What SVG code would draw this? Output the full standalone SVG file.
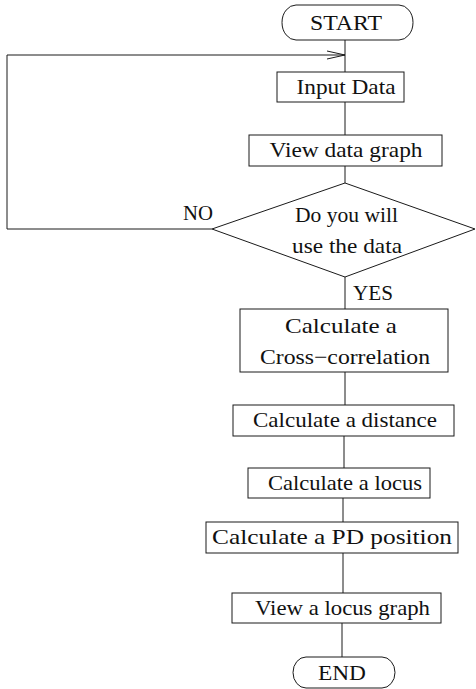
<svg xmlns="http://www.w3.org/2000/svg" width="476" height="689" viewBox="0 0 476 689">
<defs>
<style>
.s{fill:#fff;stroke:#1a1a1a;stroke-width:1}
.c{fill:none;stroke:#1a1a1a;stroke-width:1}
.t{font-family:"Liberation Serif","Times New Roman",serif;font-size:21px;fill:#111;text-anchor:middle}
.l{font-family:"Liberation Serif","Times New Roman",serif;font-size:21px;fill:#111}
</style>
<marker id="ah" markerWidth="20" markerHeight="10" refX="18" refY="5" orient="auto" markerUnits="userSpaceOnUse">
<path d="M0,1 L18,5 L0,9" fill="none" stroke="#1a1a1a" stroke-width="1"/>
</marker>
</defs>
<rect width="476" height="689" fill="#fff"/>
<g id="connectors">
<line class="c" x1="345" y1="40" x2="345" y2="72"/>
<line class="c" x1="345" y1="102" x2="345" y2="135"/>
<line class="c" x1="345" y1="166" x2="345" y2="183"/>
<line class="c" x1="345" y1="277" x2="345" y2="309"/>
<line class="c" x1="345" y1="372" x2="345" y2="405"/>
<line class="c" x1="344" y1="436" x2="344" y2="468"/>
<line class="c" x1="343" y1="498" x2="343" y2="522"/>
<line class="c" x1="343" y1="553" x2="343" y2="593"/>
<line class="c" x1="342" y1="623" x2="342" y2="657"/>
<polyline class="c" points="212,229 7,229 7,55 345,55" marker-end="url(#ah)"/>
<text class="l" x="183" y="220" textLength="30" lengthAdjust="spacingAndGlyphs">NO</text>
<text class="l" x="353" y="300" textLength="40" lengthAdjust="spacingAndGlyphs">YES</text>
</g>
<g id="start">
<path class="s" d="M296,5 H399 A14,17.5 0 0 1 399,40 H296 A14,17.5 0 0 1 296,5 Z"/>
<text class="t" x="346" y="30" textLength="72" lengthAdjust="spacingAndGlyphs">START</text>
</g>
<g id="input">
<rect class="s" x="277" y="72" width="127" height="30"/>
<text class="t" x="346" y="94" textLength="99" lengthAdjust="spacingAndGlyphs">Input Data</text>
</g>
<g id="viewdata">
<rect class="s" x="249" y="135" width="193" height="31"/>
<text class="t" x="346" y="157" textLength="153" lengthAdjust="spacingAndGlyphs">View data graph</text>
</g>
<g id="decision">
<polygon class="s" points="345,183 475,229 345,277 212,229"/>
<text class="t" x="346.5" y="222" textLength="103" lengthAdjust="spacingAndGlyphs">Do you will</text>
<text class="t" x="347" y="253" textLength="110" lengthAdjust="spacingAndGlyphs">use the data</text>
</g>
<g id="cross">
<rect class="s" x="240" y="309" width="208" height="63"/>
<text class="t" x="341" y="333" textLength="112" lengthAdjust="spacingAndGlyphs">Calculate a</text>
<text class="t" x="345" y="364" textLength="170" lengthAdjust="spacingAndGlyphs">Cross−correlation</text>
</g>
<g id="distance">
<rect class="s" x="233" y="405" width="221" height="31"/>
<text class="t" x="345" y="427" textLength="184" lengthAdjust="spacingAndGlyphs">Calculate a distance</text>
</g>
<g id="locus">
<rect class="s" x="248" y="468" width="182" height="30"/>
<text class="t" x="345" y="490" textLength="154" lengthAdjust="spacingAndGlyphs">Calculate a locus</text>
</g>
<g id="pd">
<rect class="s" x="206" y="522" width="252" height="31"/>
<text class="t" x="332" y="544" textLength="240" lengthAdjust="spacingAndGlyphs">Calculate a PD position</text>
</g>
<g id="viewlocus">
<rect class="s" x="232" y="593" width="209" height="30"/>
<text class="t" x="342.5" y="615" textLength="175" lengthAdjust="spacingAndGlyphs">View a locus graph</text>
</g>
<g id="end">
<path class="s" d="M306,657 H382 A13,15.5 0 0 1 382,688 H306 A13,15.5 0 0 1 306,657 Z"/>
<text class="t" x="342" y="680" textLength="48" lengthAdjust="spacingAndGlyphs">END</text>
</g>
</svg>
